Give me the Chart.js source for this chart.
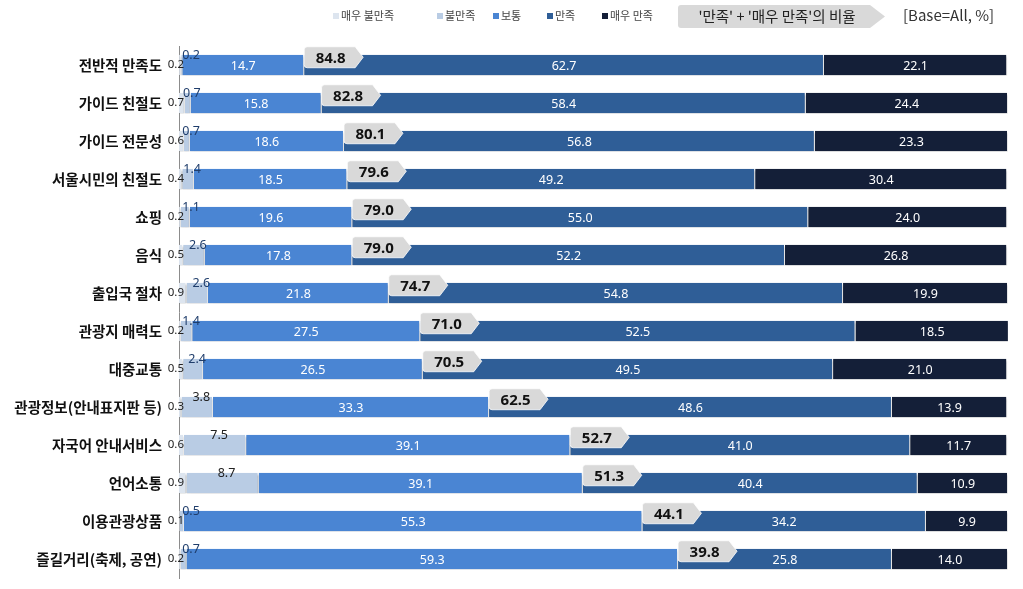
<!DOCTYPE html>
<html>
<head>
<meta charset="utf-8">
<script src="https://cdn.jsdelivr.net/npm/chart.js@4/dist/chart.umd.min.js"></script>
<style>
  html, body { margin: 0; padding: 0; background: #fff; }
  #wrap { width: 1023px; height: 589px; }
</style>
</head>
<body>
<div id="wrap"><canvas id="chart" width="1023" height="589"></canvas></div>
<script>
const categories = [
  "전반적 만족도", "가이드 친절도", "가이드 전문성", "서울시민의 친절도", "쇼핑", "음식",
  "출입국 절차", "관광지 매력도", "대중교통", "관광정보(안내표지판 등)", "자국어 안내서비스",
  "언어소통", "이용관광상품", "즐길거리(축제, 공연)"
];
const seriesNames = ["매우 불만족", "불만족", "보통", "만족", "매우 만족"];
const veryDissatisfied = [0.2, 0.7, 0.6, 0.4, 0.2, 0.5, 0.9, 0.2, 0.5, 0.3, 0.6, 0.9, 0.1, 0.2];
const dissatisfied = [0.2, 0.7, 0.7, 1.4, 1.1, 2.6, 2.6, 1.4, 2.4, 3.8, 7.5, 8.7, 0.5, 0.7];
const neutral = [14.7, 15.8, 18.6, 18.5, 19.6, 17.8, 21.8, 27.5, 26.5, 33.3, 39.1, 39.1, 55.3, 59.3];
const satisfied = [62.7, 58.4, 56.8, 49.2, 55.0, 52.2, 54.8, 52.5, 49.5, 48.6, 41.0, 40.4, 34.2, 25.8];
const verySatisfied = [22.1, 24.4, 23.3, 30.4, 24.0, 26.8, 19.9, 18.5, 21.0, 13.9, 11.7, 10.9, 9.9, 14.0];
const satisfiedTotal = [84.8, 82.8, 80.1, 79.6, 79.0, 79.0, 74.7, 71.0, 70.5, 62.5, 52.7, 51.3, 44.1, 39.8];

const colors = ["#dde5ef", "#b9cce4", "#4a85d3", "#2f5e97", "#141f38"];
const textColors = ["#222", "#222", "#fff", "#fff", "#fff"];
const numFont = "'Noto Sans', sans-serif";
const krFont = "'Noto Sans CJK KR', sans-serif";

// gray arrow-shaped tag, rounded on the left, pointed on the right
function tagPath(ctx, x, y, w, h, tip) {
  const r = 3;
  ctx.beginPath();
  ctx.moveTo(x + r, y);
  ctx.lineTo(x + w - tip, y);
  ctx.lineTo(x + w, y + h / 2);
  ctx.lineTo(x + w - tip, y + h);
  ctx.lineTo(x + r, y + h);
  ctx.quadraticCurveTo(x, y + h, x, y + h - r);
  ctx.lineTo(x, y + r);
  ctx.quadraticCurveTo(x, y, x + r, y);
  ctx.closePath();
}

const shadowPlugin = {
  id: "barShadow",
  beforeDatasetsDraw(chart) {
    const ctx = chart.ctx;
    ctx.save();
    ctx.shadowColor = "rgba(0,0,0,0.35)";
    ctx.shadowOffsetY = 2;
    ctx.shadowBlur = 2;
  },
  afterDatasetsDraw(chart) {
    chart.ctx.restore();
  }
};

const labelPlugin = {
  id: "barLabels",
  afterDatasetsDraw(chart) {
    const ctx = chart.ctx;
    const axisX = chart.chartArea.left;
    ctx.save();

    // callouts for 만족 + 매우 만족
    const neutralMeta = chart.getDatasetMeta(2);
    neutralMeta.data.forEach((el, i) => {
      const top = el.y - el.height / 2;
      const x = el.x, y = top - 8, w = 59, h = 21;
      tagPath(ctx, x, y, w, h, 8);
      ctx.fillStyle = "#d9d9d9";
      ctx.fill();
      ctx.strokeStyle = "rgba(255,255,255,0.8)";
      ctx.lineWidth = 1;
      ctx.stroke();
      ctx.fillStyle = "#111";
      ctx.font = "bold 15px " + numFont;
      ctx.textAlign = "center";
      ctx.textBaseline = "middle";
      ctx.fillText(satisfiedTotal[i].toFixed(1), x + (w - 8) / 2 + 1, y + h / 2 + 1);
    });

    chart.data.datasets.forEach((ds, d) => {
      const meta = chart.getDatasetMeta(d);
      meta.data.forEach((el, i) => {
        const v = ds.data[i];
        const top = el.y - el.height / 2;
        const mid = (el.x + el.base) / 2;
        ctx.font = "12.5px " + numFont;
        ctx.textBaseline = "middle";
        ctx.fillStyle = textColors[d];
        const txt = v.toFixed(1);
        if (d === 0) {
          ctx.font = "11.5px " + numFont;
          ctx.textAlign = "right";
          ctx.fillText(txt, axisX + 5, el.y);
        } else if (d === 1) {
          ctx.textAlign = "center";
          ctx.fillStyle = v < 3 ? "#1f3d6b" : "#222";
          ctx.fillText(txt, Math.max(mid, axisX + 8) + 4, top + 1);
        } else {
          ctx.textAlign = "center";
          ctx.fillText(txt, mid, el.y + 1);
        }
      });
    });
    ctx.restore();
  },
  afterDraw(chart) {
    const ctx = chart.ctx;
    ctx.save();
    // legend
    const legendX = [333, 437, 493, 547, 602];
    ctx.font = "11px " + krFont;
    ctx.textBaseline = "middle";
    ctx.textAlign = "left";
    seriesNames.forEach((name, i) => {
      ctx.fillStyle = colors[i];
      ctx.fillRect(legendX[i], 13, 6, 6);
      ctx.fillStyle = "#444";
      ctx.fillText(name, legendX[i] + 8, 16);
    });
    // callout legend
    tagPath(ctx, 678, 5, 207, 23, 15);
    ctx.fillStyle = "#d9d9d9";
    ctx.fill();
    ctx.fillStyle = "#222";
    ctx.font = "14.5px " + krFont;
    ctx.textAlign = "center";
    ctx.fillText("'만족' + '매우 만족'의 비율", 777, 16.5);
    ctx.textAlign = "left";
    ctx.font = "15px " + krFont;
    ctx.fillStyle = "#333";
    ctx.fillText("[Base=All, %]", 903, 15);
    ctx.restore();
  }
};

const seriesValues = [veryDissatisfied, dissatisfied, neutral, satisfied, verySatisfied];

new Chart(document.getElementById("chart").getContext("2d"), {
  type: "bar",
  data: {
    labels: categories,
    datasets: seriesNames.map((name, i) => ({
      label: name,
      data: seriesValues[i],
      backgroundColor: colors[i],
      borderColor: "#ffffff",
      borderWidth: { top: 0, bottom: 0, left: 0, right: 1 },
      borderSkipped: false,
      categoryPercentage: 0.54,
      barPercentage: 1
    }))
  },
  options: {
    indexAxis: "y",
    responsive: false,
    animation: false,
    devicePixelRatio: 1,
    layout: { padding: { top: 46, right: 15, bottom: 11, left: 0 } },
    plugins: {
      legend: { display: false },
      tooltip: { enabled: false }
    },
    scales: {
      x: { stacked: true, min: 0, max: 100, display: false },
      y: {
        stacked: true,
        grid: { display: false },
        border: { display: true, color: "#8c8c8c", width: 1 },
        ticks: {
          color: "#111",
          padding: 9,
          font: { family: "'Noto Sans CJK KR', sans-serif", size: 14.5, weight: "bold" }
        },
        afterFit(scale) {
          scale.width = 179;
          scale.paddingTop = 0;
          scale.paddingBottom = 0;
        }
      }
    }
  },
  plugins: [shadowPlugin, labelPlugin]
});
</script>
</body>
</html>
